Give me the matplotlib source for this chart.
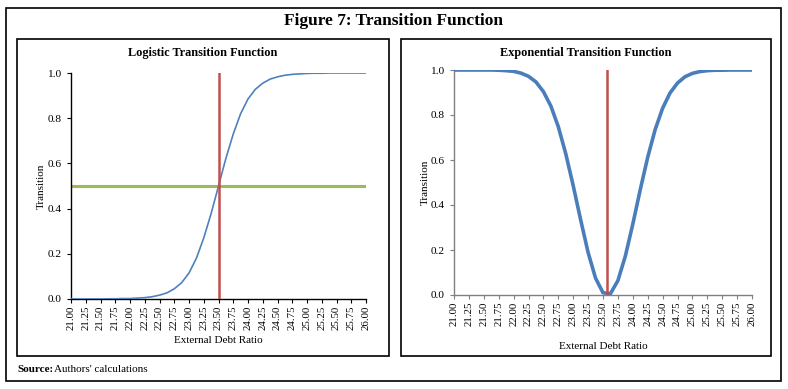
import matplotlib
matplotlib.use("Agg")
import matplotlib.pyplot as plt
from matplotlib.patches import Rectangle

plt.rcParams['font.family'] = ['Liberation Serif', 'DejaVu Serif']

# external debt ratio grid (read every 0.125)
debt_ratio = [21.000, 21.125, 21.250, 21.375, 21.500, 21.625, 21.750, 21.875,
              22.000, 22.125, 22.250, 22.375, 22.500, 22.625, 22.750, 22.875,
              23.000, 23.125, 23.250, 23.375, 23.500, 23.625, 23.750, 23.875,
              24.000, 24.125, 24.250, 24.375, 24.500, 24.625, 24.750, 24.875,
              25.000, 25.125, 25.250, 25.375, 25.500, 25.625, 25.750, 25.875,
              26.000]

logistic = [0.000, 0.000, 0.000, 0.000, 0.000, 0.001, 0.001, 0.002,
            0.002, 0.004, 0.006, 0.010, 0.017, 0.027, 0.045, 0.072,
            0.115, 0.180, 0.270, 0.378, 0.500, 0.622, 0.730, 0.820,
            0.885, 0.928, 0.955, 0.973, 0.983, 0.990, 0.994, 0.996,
            0.998, 0.999, 0.999, 1.000, 1.000, 1.000, 1.000, 1.000,
            1.000]

exponential = [1.000, 1.000, 1.000, 1.000, 1.000, 1.000, 0.999, 0.997,
               0.994, 0.986, 0.972, 0.947, 0.904, 0.840, 0.748, 0.628,
               0.486, 0.334, 0.189, 0.075, 0.010, 0.006, 0.064, 0.173,
               0.315, 0.468, 0.612, 0.735, 0.830, 0.898, 0.942, 0.970,
               0.985, 0.993, 0.997, 0.999, 0.999, 1.000, 1.000, 1.000,
               1.000]

logistic_threshold = 23.50
exp_threshold = 23.57
half_level = 0.5

x_ticks = [21 + 0.25 * i for i in range(21)]
x_labels = ["%.2f" % t for t in x_ticks]
y_ticks = [0.0, 0.2, 0.4, 0.6, 0.8, 1.0]

BLUE = '#4F81BD'
RED = '#C0504D'
GREEN = '#9BBB59'

W, H = 788, 389
fig = plt.figure(figsize=(W / 100, H / 100), dpi=100)


def px_box(x0, y0, x1, y1, lw=1.0):
    # rectangle given in pixel coords (y from top)
    r = Rectangle((x0 / W, 1 - y1 / H), (x1 - x0) / W, (y1 - y0) / H,
                  transform=fig.transFigure, fill=False, ec='black', lw=lw)
    fig.patches.append(r)


def px_axes(x0, ytop, x1, ybot):
    return fig.add_axes([x0 / W, 1 - ybot / H, (x1 - x0) / W, (ybot - ytop) / H])


def style(ax, spine_color, xpad, ypad):
    ax.set_xlim(21, 26)
    ax.set_ylim(0, 1)
    for s in ['top', 'right']:
        ax.spines[s].set_visible(False)
    for s in ['left', 'bottom']:
        ax.spines[s].set_color(spine_color)
        ax.spines[s].set_linewidth(1.0)
    ax.set_xticks(x_ticks)
    ax.set_xticklabels(x_labels, rotation=90, fontsize=7.8)
    ax.set_yticks(y_ticks)
    ax.set_yticklabels(["%.1f" % v for v in y_ticks], fontsize=8.2)
    ax.tick_params(axis='both', direction='out', length=3, width=0.8,
                   color=spine_color, pad=2)
    ax.tick_params(axis='y', pad=4)
    ax.set_xlabel('External Debt Ratio', fontsize=8, labelpad=xpad)
    ax.set_ylabel('Transition', fontsize=8, labelpad=ypad)
    ax.patch.set_alpha(0)


# frames
px_box(6, 8, 781, 381, lw=1.2)
px_box(17, 39, 389, 356, lw=1.2)
px_box(401, 39, 771, 356, lw=1.2)

fig.text(394 / W, 1 - 21 / H, 'Figure 7: Transition Function',
         ha='center', va='center', fontsize=12.5, fontweight='bold')
fig.text(203 / W, 1 - 53 / H, 'Logistic Transition Function',
         ha='center', va='center', fontsize=8.8, fontweight='bold')
fig.text(586 / W, 1 - 53 / H, 'Exponential Transition Function',
         ha='center', va='center', fontsize=8.8, fontweight='bold')
fig.text(17 / W, 1 - 369 / H, 'Source:', ha='left', va='center',
         fontsize=8, fontweight='bold')
fig.text(54 / W, 1 - 369 / H, "Authors' calculations", ha='left',
         va='center', fontsize=8)

# left: logistic
ax1 = px_axes(71, 73, 366, 299)
ax1.plot(debt_ratio, logistic, color=BLUE, lw=1.2, zorder=3)
ax1.axhline(half_level, color=GREEN, lw=2.2, zorder=2)
ax1.plot([logistic_threshold, logistic_threshold], [0, 1], color=RED, lw=1.8,
         zorder=4)
style(ax1, 'black', 4, 1)

# right: exponential
ax2 = px_axes(454, 70, 752, 295)
ax2.plot(debt_ratio, exponential, color='#4A7EBB', lw=2.6, zorder=3)
ax2.plot([exp_threshold, exp_threshold], [0, 1], color=RED, lw=1.8, zorder=4)
style(ax2, '#808080', 11, 0)

fig.savefig('out.png', dpi=100)
